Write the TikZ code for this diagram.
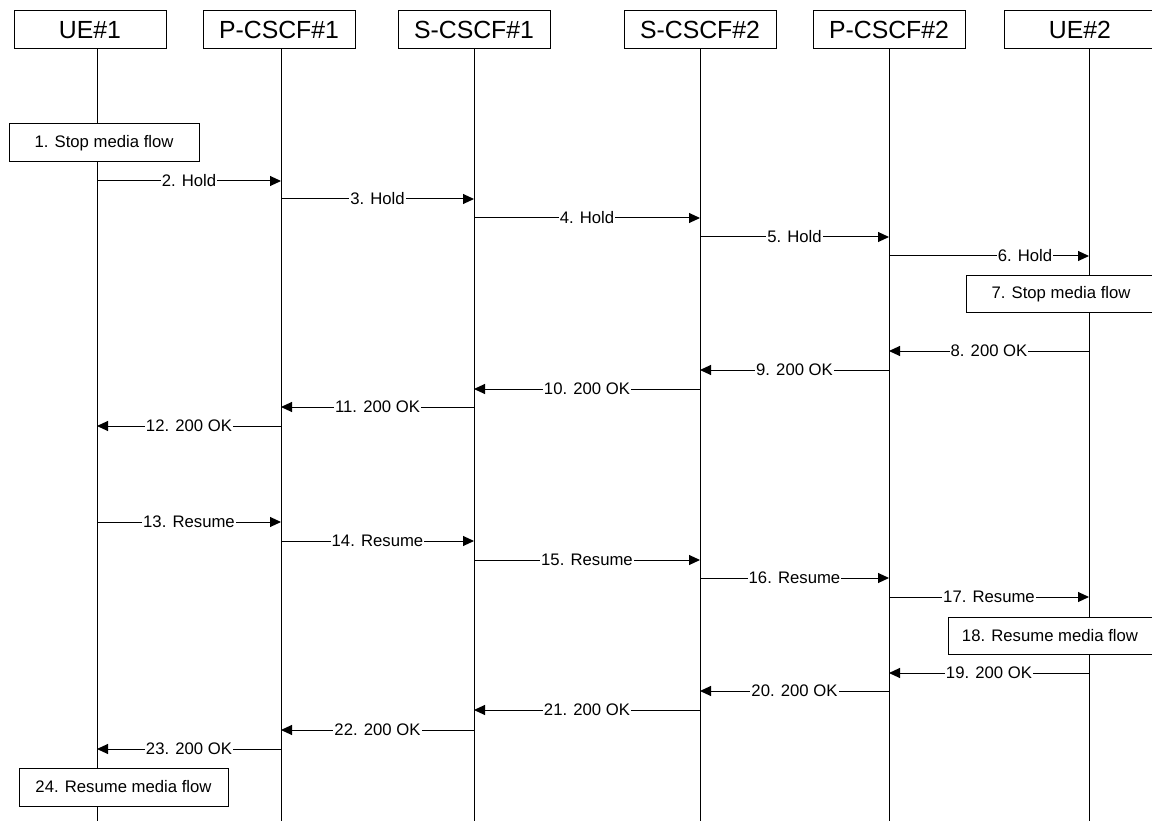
\documentclass[tikz,border=0pt]{standalone}
\usepackage{fontspec}
\setmainfont{Liberation Sans}
\usetikzlibrary{arrows.meta}
\tikzset{
  hdr/.style={draw,line width=1pt,fill=white,minimum width=152pt,minimum height=38pt,inner sep=0pt,font=\fontsize{24.8}{28}\selectfont},
  actbox/.style={draw,line width=1pt,fill=white,minimum height=38pt,inner sep=0pt,font=\fontsize{16.7}{20}\selectfont},
  life/.style={line width=1pt},
  msgarrow/.style={line width=1pt,-{Triangle[length=11pt,width=10pt]}},
  lbl/.style={fill=white,inner sep=1pt,font=\fontsize{16.7}{20}\selectfont}
}
\newcommand{\msgline}[5][0.5]{\draw[msgarrow] (#2 |- 0,#4) -- node[lbl,pos=#1]{#5} (#3 |- 0,#4);}
\begin{document}
\begin{tikzpicture}[x=1pt,y=-1pt]
\useasboundingbox (0,0) rectangle (1152,821);
% headers
\node[hdr] (h1) at (90,30) {UE\#1};
\node[hdr] (h2) at (279,30) {P-CSCF\#1};
\node[hdr] (h3) at (474,30) {S-CSCF\#1};
\node[hdr] (h4) at (700,30) {S-CSCF\#2};
\node[hdr] (h5) at (889,30) {P-CSCF\#2};
\node[hdr] (h6) at (1080,30) {UE\#2};
% lifeline tops
\coordinate (L1) at (97,49);
\coordinate (L2) at (281,49);
\coordinate (L3) at (474,49);
\coordinate (L4) at (700,49);
\coordinate (L5) at (889,49);
\coordinate (L6) at (1089,49);
\foreach \l in {L1,L2,L3,L4,L5,L6}{
  \coordinate (\l b) at (\l |- 0,821);
  \draw[life] (\l) -- (\l b);
}
% action boxes
\node[actbox,minimum width=190pt] (a1) at (104,143) {1. Stop media flow};
\node[actbox,minimum width=190pt,minimum height=37pt] (a7) at (1061,294.5) {7. Stop media flow};
\node[actbox,minimum width=204pt,minimum height=37pt] (a18) at (1050,635.5) {18. Resume media flow};
\node[actbox,minimum width=209pt] (a24) at (123.5,787) {24. Resume media flow};
% messages
\msgline{L1}{L2}{181}{2. Hold}
\msgline{L2}{L3}{199}{3. Hold}
\msgline{L3}{L4}{218}{4. Hold}
\msgline{L4}{L5}{237}{5. Hold}
\msgline[0.68]{L5}{L6}{256}{6. Hold}
\msgline{L6}{L5}{351}{8. 200 OK}
\msgline{L5}{L4}{370}{9. 200 OK}
\msgline{L4}{L3}{389}{10. 200 OK}
\msgline{L3}{L2}{407}{11. 200 OK}
\msgline{L2}{L1}{426}{12. 200 OK}
\msgline{L1}{L2}{522}{13. Resume}
\msgline{L2}{L3}{541}{14. Resume}
\msgline{L3}{L4}{560}{15. Resume}
\msgline{L4}{L5}{578}{16. Resume}
\msgline{L5}{L6}{597}{17. Resume}
\msgline{L6}{L5}{673}{19. 200 OK}
\msgline{L5}{L4}{691}{20. 200 OK}
\msgline{L4}{L3}{710}{21. 200 OK}
\msgline{L3}{L2}{730}{22. 200 OK}
\msgline{L2}{L1}{749}{23. 200 OK}
\end{tikzpicture}
\end{document}
